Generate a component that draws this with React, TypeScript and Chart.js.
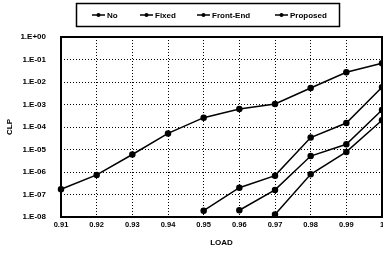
import React, { useEffect, useRef } from "react";
import { Chart, registerables } from "chart.js";

Chart.register(...registerables);

const loads = ["0.91", "0.92", "0.93", "0.94", "0.95", "0.96", "0.97", "0.98", "0.99", "1"];
const seriesNames = ["No", "Fixed", "Front-End", "Proposed"];
const noValues = [1.7e-7, 7.4e-7, 6e-6, 5.2e-5, 2.6e-4, 6.3e-4, 1.05e-3, 5.4e-3, 2.7e-2, 6.8e-2];
const fixedValues = [null, null, null, null, 1.9e-8, 2e-7, 6.9e-7, 3.4e-5, 1.5e-4, 5.8e-3];
const frontEndValues = [null, null, null, null, null, 2e-8, 1.6e-7, 5.1e-6, 1.7e-5, 5.7e-4];
const proposedValues = [null, null, null, null, null, null, 1.3e-8, 7.9e-7, 7.8e-6, 2e-4];
const yTickValues = [1, 1e-1, 1e-2, 1e-3, 1e-4, 1e-5, 1e-6, 1e-7, 1e-8];
const yTickLabels = ["1.E+00", "1.E-01", "1.E-02", "1.E-03", "1.E-04", "1.E-05", "1.E-06", "1.E-07", "1.E-08"];
const xTitle = "LOAD";
const yTitle = "CLP";

const FONT = "'Liberation Sans', Arial, sans-serif";

export default function App() {
  const ref = useRef<HTMLCanvasElement | null>(null);

  useEffect(() => {
    document.body.style.margin = "0";
    const canvas = ref.current;
    if (!canvas) return;
    const allSeries = [noValues, fixedValues, frontEndValues, proposedValues];

    const frameAndLegend = {
      id: "frameAndLegend",
      afterDraw(chart: any) {
        const { ctx, chartArea } = chart;
        ctx.save();
        ctx.strokeStyle = "#000";
        ctx.lineWidth = 2;
        ctx.strokeRect(chartArea.left, chartArea.top, chartArea.right - chartArea.left, chartArea.bottom - chartArea.top);
        // legend box
        ctx.lineWidth = 1.5;
        ctx.strokeRect(76.5, 3.5, 263, 23);
        const xs = [92, 140, 197, 275];
        const y = 15;
        ctx.font = `bold 8px ${FONT}`;
        ctx.textBaseline = "middle";
        ctx.textAlign = "left";
        ctx.fillStyle = "#000";
        seriesNames.forEach((name, i) => {
          const x = xs[i];
          ctx.lineWidth = 1.5;
          ctx.beginPath();
          ctx.moveTo(x, y);
          ctx.lineTo(x + 13, y);
          ctx.stroke();
          ctx.beginPath();
          ctx.arc(x + 6.5, y, 2, 0, Math.PI * 2);
          ctx.fill();
          ctx.fillText(name, x + 15, y + 0.5);
        });
        ctx.restore();
      },
    };

    const chart = new Chart(canvas, {
      type: "line",
      data: {
        labels: loads,
        datasets: allSeries.map((vals, i) => ({
          label: seriesNames[i],
          data: vals,
          borderColor: "#000",
          backgroundColor: "#000",
          pointBackgroundColor: "#000",
          pointBorderColor: "#000",
          borderWidth: 1.5,
          pointRadius: 2.5,
          tension: 0,
          fill: false,
        })),
      },
      options: {
        responsive: false,
        animation: false,
        layout: { autoPadding: false, padding: { top: 37, left: 0, right: 1, bottom: 0 } },
        plugins: {
          legend: { display: false },
          tooltip: { enabled: false },
        },
        scales: {
          x: {
            type: "category",
            offset: false,
            grid: {
              color: "#000",
              lineWidth: 1,
              drawTicks: false,
            },
            border: { display: false, dash: [1, 2] },
            ticks: {
              color: "#000",
              font: { family: FONT, size: 7.5, weight: "bold" },
              padding: 3,
              maxRotation: 0,
              autoSkip: false,
            },
            title: {
              display: true,
              text: xTitle,
              color: "#000",
              font: { family: FONT, size: 8, weight: "bold" },
              padding: { top: 4, bottom: 5 },
            },
            afterFit(scale: any) {
              scale.height = 36;
              scale.paddingLeft = 0;
              scale.paddingRight = 0;
            },
          },
          y: {
            type: "logarithmic",
            min: 1e-8,
            max: 1,
            grid: {
              color: "#000",
              lineWidth: 1,
              drawTicks: false,
            },
            border: { display: false, dash: [1, 2] },
            ticks: {
              color: "#000",
              font: { family: FONT, size: 8, weight: "bold" },
              padding: 15,
              callback: (v: any) => {
                const idx = Math.round(-Math.log10(Number(v)));
                return yTickLabels[idx] ?? "";
              },
            },
            afterBuildTicks(scale: any) {
              scale.ticks = yTickValues.map((v) => ({ value: v }));
            },
            title: {
              display: true,
              text: yTitle,
              color: "#000",
              font: { family: FONT, size: 8, weight: "bold" },
              padding: { top: 5, bottom: 4 },
            },
            afterFit(scale: any) {
              scale.width = 61;
              scale.paddingTop = 0;
              scale.paddingBottom = 0;
            },
          },
        },
      } as any,
      plugins: [frameAndLegend],
    });
    return () => chart.destroy();
  }, []);

  return (
    <div style={{ position: "fixed", left: 0, top: 0, width: 383, height: 253 }}>
      <canvas ref={ref} width={383} height={253} />
    </div>
  );
}
